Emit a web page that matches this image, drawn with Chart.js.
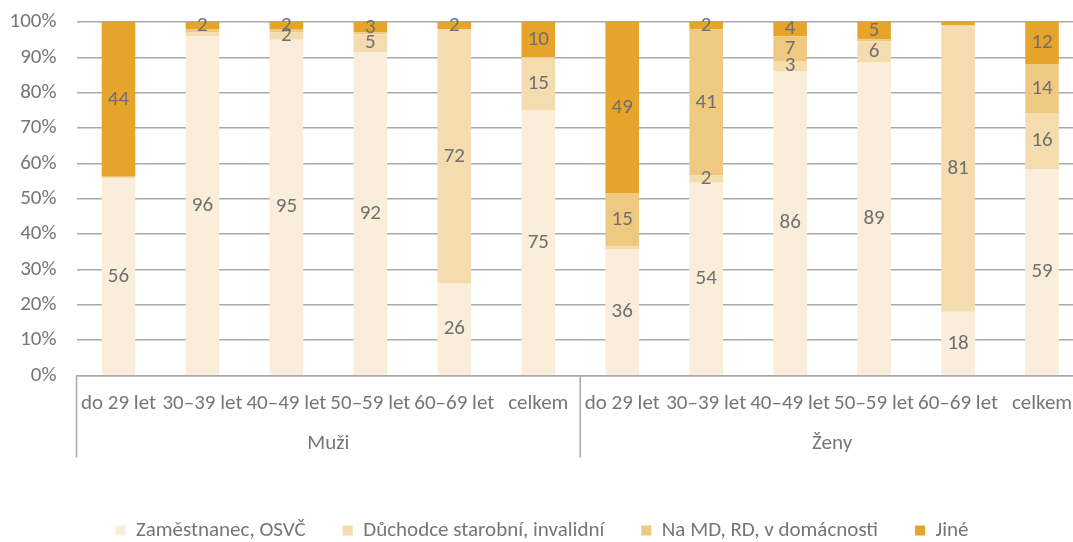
<!DOCTYPE html>
<html lang="cs">
<head>
<meta charset="utf-8">
<title>Ekonomická aktivita podle věku</title>
<script src="https://cdn.jsdelivr.net/npm/chart.js@4.4.1/dist/chart.umd.min.js"></script>
<style>
  html, body { margin: 0; padding: 0; background: #fff; overflow: hidden; }
  #wrap { width: 1094px; height: 542px; position: relative; }
</style>
</head>
<body>
<div id="wrap"><canvas id="graf"></canvas></div>
<script>
// Kategorie (věkové skupiny) a skupiny na ose X
const kategorie = ['do 29 let', '30–39 let', '40–49 let', '50–59 let', '60–69 let', 'celkem',
                   'do 29 let', '30–39 let', '40–49 let', '50–59 let', '60–69 let', 'celkem'];
const skupiny = ['Muži', 'Ženy'];
const velikostSkupin = [6, 6];

// Hodnoty v procentech
const zamestnanec = [56, 96, 95, 92, 26, 75, 36, 54, 86, 89, 18, 59];
const duchodce    = [0.5, 1, 2, 5, 72, 15, 1, 2, 3, 6, 81, 16];
const naMD        = [0, 1, 1, 0.5, 0, 0, 15, 41, 7, 0.5, 0, 14];
const jine        = [44, 2, 2, 3, 2, 10, 49, 2, 4, 5, 1, 12];

const nazvyRad = ['Zaměstnanec, OSVČ', 'Důchodce starobní, invalidní', 'Na MD, RD, v domácnosti', 'Jiné'];
const barvy = ['#FAEEDB', '#F5DCAE', '#F0C981', '#E6A42A'];
const osaY = [0, 10, 20, 30, 40, 50, 60, 70, 80, 90, 100];

const FONT = 'Carlito, Lato, sans-serif';
const VEL = 21;
const SEDA = '#767676';

// 100% skládaný graf: přepočet na podíl ze součtu
const rady = [zamestnanec, duchodce, naMD, jine];
const soucty = kategorie.map((_, i) => rady.reduce((s, r) => s + r[i], 0));
const naProcenta = r => r.map((v, i) => v / soucty[i] * 100);

// Popisky hodnot uvnitř sloupců
const popiskyHodnot = {
    id: 'popiskyHodnot',
    afterDatasetsDraw(chart) {
        const ctx = chart.ctx;
        ctx.save();
        ctx.font = VEL + 'px ' + FONT;
        ctx.fillStyle = '#707070';
        ctx.textAlign = 'center';
        ctx.textBaseline = 'middle';
        chart.data.datasets.forEach((ds, d) => {
            const meta = chart.getDatasetMeta(d);
            meta.data.forEach((bar, i) => {
                const hodnota = ds.surove[i];
                if (hodnota < 2) return; // malé hodnoty se nezobrazují
                const p = bar.getProps(['x', 'y', 'base'], true);
                ctx.fillText(String(hodnota), p.x, (p.y + p.base) / 2);
            });
        });
        ctx.restore();
    }
};

// Druhá úroveň osy X: oddělovače a názvy skupin
const skupinovaOsa = {
    id: 'skupinovaOsa',
    afterDraw(chart) {
        const ctx = chart.ctx;
        const x = chart.scales.x;
        const sirka = x.width / kategorie.length;
        const dole = chart.chartArea.bottom;
        ctx.save();
        ctx.strokeStyle = '#a9a9a9';
        ctx.lineWidth = 1.5;
        ctx.font = VEL + 'px ' + FONT;
        ctx.fillStyle = SEDA;
        ctx.textAlign = 'center';
        ctx.textBaseline = 'middle';
        let start = 0;
        const hranice = [x.getPixelForValue(0) - sirka / 2];
        skupiny.forEach((nazev, g) => {
            const konec = start + velikostSkupin[g] - 1;
            const x0 = x.getPixelForValue(start) - sirka / 2;
            const x1 = x.getPixelForValue(konec) + sirka / 2;
            hranice.push(x1);
            ctx.fillText(nazev, (x0 + x1) / 2, dole + 68);
            start = konec + 1;
        });
        hranice.forEach(px => {
            ctx.beginPath();
            ctx.moveTo(px, dole);
            ctx.lineTo(px, dole + 82);
            ctx.stroke();
        });
        ctx.restore();
    }
};

const graf = new Chart(document.getElementById('graf').getContext('2d'), {
    type: 'bar',
    data: {
        labels: kategorie,
        datasets: rady.map((r, k) => ({
            label: nazvyRad[k],
            data: naProcenta(r),
            surove: r,
            backgroundColor: barvy[k],
            borderWidth: 0,
            barPercentage: 0.4,
            categoryPercentage: 1
        }))
    },
    options: {
        responsive: true,
        maintainAspectRatio: false,
        animation: false,
        layout: { padding: { top: 22, left: 0, right: 10, bottom: -9 } },
        plugins: {
            tooltip: { enabled: false },
            legend: {
                position: 'bottom',
                labels: {
                    boxWidth: 10,
                    boxHeight: 10,
                    padding: 37,
                    color: SEDA,
                    font: { family: FONT, size: VEL }
                }
            }
        },
        scales: {
            x: {
                stacked: true,
                grid: { display: false, drawTicks: false },
                border: { display: true, color: '#a9a9a9', width: 1.5 },
                ticks: {
                    color: SEDA,
                    padding: 16,
                    autoSkip: false,
                    maxRotation: 0,
                    font: { family: FONT, size: VEL }
                },
                afterFit(scale) { scale.height = 107.5; }
            },
            y: {
                stacked: true,
                min: 0,
                max: 100,
                afterBuildTicks(scale) { scale.ticks = osaY.map(v => ({ value: v })); },
                grid: { color: '#a9a9a9', lineWidth: 1.5, drawTicks: false },
                border: { display: false },
                ticks: {
                    color: SEDA,
                    padding: 20,
                    font: { family: FONT, size: VEL },
                    callback: v => v + '%'
                },
                afterFit(scale) {
                    scale.width = 76.5;
                    scale.paddingTop = 0;
                    scale.paddingBottom = 0;
                }
            }
        }
    },
    plugins: [popiskyHodnot, skupinovaOsa]
});
</script>
</body>
</html>
